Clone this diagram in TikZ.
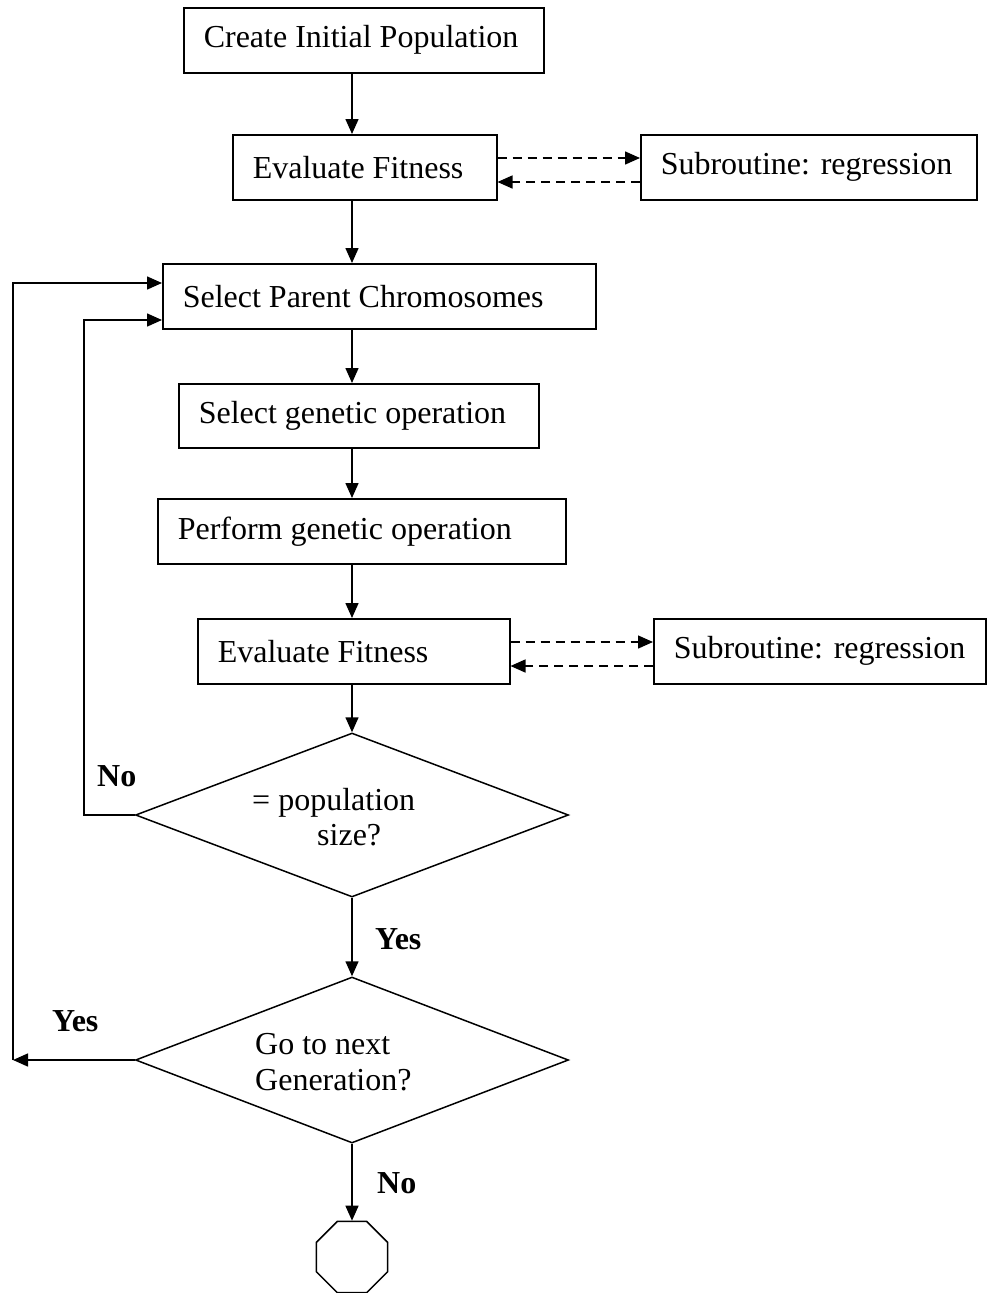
\documentclass[tikz,border=0pt]{standalone}
\usepackage{fontspec}
\setmainfont{Liberation Serif}
\usetikzlibrary{arrows.meta,shapes.geometric}
\begin{document}
\begin{tikzpicture}[x=1pt,y=-1pt,
  every node/.style={font=\fontsize{32}{36}\selectfont},
  stepbox/.style={draw, line width=1.5pt, inner xsep=20pt, inner ysep=0pt,
    anchor=north west, align=flush left, minimum height=65pt},
  decision/.style={draw, shape=diamond, line width=1.5pt, inner sep=0pt},
  flow/.style={line width=1.5pt, -{Triangle[length=15pt,width=13pt]}},
  call/.style={flow, dash pattern=on 9pt off 6pt},
  answer/.style={font=\fontsize{32}{36}\selectfont\bfseries, anchor=base west, inner sep=0pt},
  qline/.style={anchor=base west, inner sep=0pt}]
\useasboundingbox (0,0) rectangle (987,1293);

% process boxes
\node[stepbox, text width=320pt] (init) at (183,7) {Create Initial Population};
\node[stepbox, text width=224pt] (fit1) at (232,134) {Evaluate Fitness};
\node[stepbox, text width=296pt] (sub1) at (640,134) {\mbox{Subroutine: regression}};
\node[stepbox, text width=393pt] (parents) at (162,263) {Select Parent Chromosomes};
\node[stepbox, text width=320pt, minimum height=64pt] (chooseop) at (178,383) {Select genetic operation};
\node[stepbox, text width=368pt] (doop) at (157,498) {Perform genetic operation};
\node[stepbox, text width=272pt] (fit2) at (197,618) {Evaluate Fitness};
\node[stepbox, text width=292pt] (sub2) at (653,618) {\mbox{Subroutine: regression}};

% decisions and terminator
\node[decision, minimum width=433pt, minimum height=164pt] (popsize) at (352,815) {};
\node[decision, minimum width=433pt, minimum height=166pt] (nextgen) at (352,1060) {};
\node[draw, regular polygon, regular polygon sides=8, minimum size=77pt,
      inner sep=0pt, line width=1.5pt] (stop) at (352,1257) {};

% decision texts
\node[qline] (q1a) at (252,810) {= population};
\node[qline] (q1b) at (317,845) {size?};
\node[qline] (q2a) at (255,1054) {Go to next};
\node[qline] (q2b) at (255,1090) {Generation?};

% branch labels
\node[answer] (lno1) at (97,786) {No};
\node[answer] (lyes1) at (375,949) {Yes};
\node[answer] (lyes2) at (52,1031) {Yes};
\node[answer] (lno2) at (377,1193) {No};

% helper coordinates
\coordinate (spine) at (352,0);
\coordinate (callA) at (0,158);
\coordinate (callB) at (0,182);
\coordinate (callC) at (0,642);
\coordinate (callD) at (0,666);
\coordinate (innerloop) at (84,320);
\coordinate (outerloop) at (13,283);

% main flow
\draw[flow] (init.south -| spine) -- (fit1.north -| spine);
\draw[flow] (fit1.south -| spine) -- (parents.north -| spine);
\draw[flow] (parents.south -| spine) -- (chooseop.north -| spine);
\draw[flow] (chooseop.south -| spine) -- (doop.north -| spine);
\draw[flow] (doop.south -| spine) -- (fit2.north -| spine);
\draw[flow] (fit2.south -| spine) -- (popsize.north);
\draw[flow] (popsize.south) -- (nextgen.north);
\draw[flow] (nextgen.south) -- (stop.north);

% subroutine calls
\draw[call] (fit1.east |- callA) -- (sub1.west |- callA);
\draw[call] (sub1.west |- callB) -- (fit1.east |- callB);
\draw[call] (fit2.east |- callC) -- (sub2.west |- callC);
\draw[call] (sub2.west |- callD) -- (fit2.east |- callD);

% loops back to parent selection
\draw[flow] (popsize.west) -| (innerloop) -- (parents.west |- innerloop);
\draw[flow] (nextgen.west) -- (outerloop |- nextgen.west);
\draw[flow] (outerloop |- nextgen.west) -- (outerloop) -- (parents.west |- outerloop);
\end{tikzpicture}
\end{document}
